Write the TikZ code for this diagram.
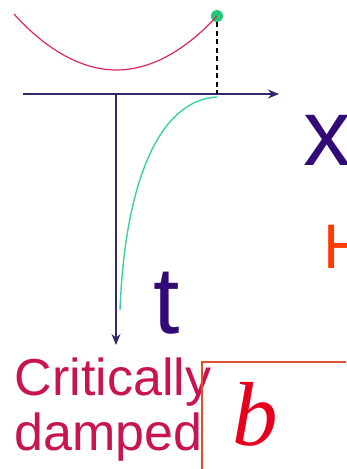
\documentclass[tikz,border=0pt]{standalone}
\usepackage{fontspec}
\setmainfont{Liberation Sans}
\newfontfamily\timesfont{Liberation Serif}
\usepackage{tikz}
\usetikzlibrary{arrows.meta,positioning}
\definecolor{axisblue}  {HTML}{32286A}
\definecolor{letterblue}{HTML}{320A78}
\definecolor{pathred}   {HTML}{DC285A}
\definecolor{dampgreen} {HTML}{3CCFA0}
\definecolor{dotgreen}  {HTML}{20C878}
\definecolor{labelred}  {HTML}{C81450}
\definecolor{boxorange} {HTML}{E0502A}
\definecolor{hred}      {HTML}{FF3C00}
\definecolor{bred}      {HTML}{E6001E}

\begin{document}
\begin{tikzpicture}[x=1pt,y=-1pt,
  axis/.style={draw=axisblue,line width=1.8pt,-{Stealth[length=11pt,width=9pt]}},
  lbl/.style={inner sep=0pt,anchor=base west},
  big/.style={lbl,text=letterblue,font=\fontsize{95}{95}\selectfont}
]
\useasboundingbox (0,0) rectangle (346,469);
\clip (0,0) rectangle (346,469);
% axes
\coordinate (xl)  at (23,94);
\coordinate (xr)  at (279,94);
\coordinate (o)   at (116,94);
\coordinate (tb)  at (116,345);
\draw[axis] (xl) -- (xr);
\draw[axis,line width=1.3pt] (o) -- (tb);
% potential and start point
\coordinate (pl) at (14,14);
\coordinate (pm) at (116.5,70);
\node[circle,fill=dotgreen,inner sep=0pt,minimum size=12pt] (dot) at (217,16) {};
\draw[pathred,line width=1.2pt] (pl) parabola bend (pm) (dot.center);
\draw[black,line width=1.1pt,dash pattern=on 5pt off 3.5pt] (dot.south) -- (dot.south |- xl);
% motion
\coordinate (m0) at (217,97);
\coordinate (m1) at (120,310);
\draw[dampgreen,line width=1.4pt] (m0) .. controls (160,100) and (125,180) .. (m1);
% labels
\node[big] (xlab) at (303,165) {x};
\node[big] (tlab) at (153,333) {t};
\node[lbl,text=hred,font=\fontsize{63}{63}\selectfont] (hlab) at (323,268) {H};
\node[lbl,text=labelred,font=\fontsize{52}{55}\selectfont] (crit) at (14.5,395) {Critically};
\node[lbl,text=labelred,font=\fontsize{52}{55}\selectfont] (damp) at (14.5,450) {damped};
% formula box
\coordinate (bx) at (202,362);
\draw[boxorange,line width=1.5pt] (bx |- 0,469) -- (bx) -- (bx -| 346,0);
\node[lbl,text=bred,font=\timesfont\itshape\fontsize{91}{91}\selectfont] (blab) at (232,445) {b};
\end{tikzpicture}
\end{document}
